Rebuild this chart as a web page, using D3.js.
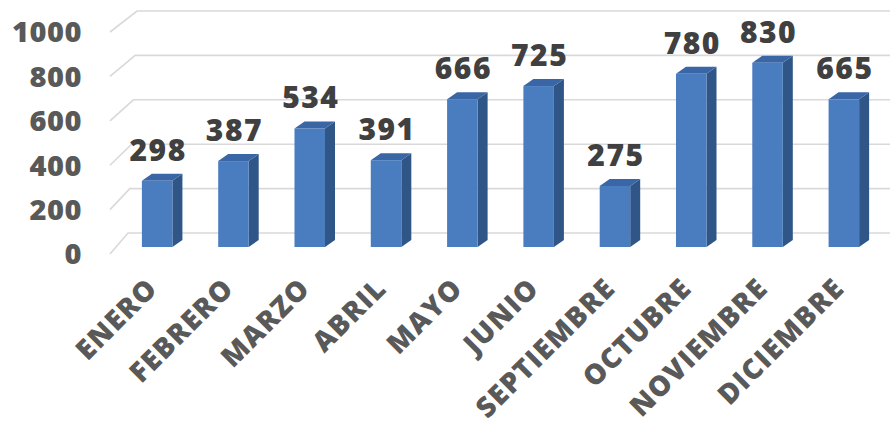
<!DOCTYPE html>
<html>
<head>
<meta charset="utf-8">
<script src="https://cdn.jsdelivr.net/npm/d3@7"></script>
<style>
  body { margin: 0; background: #fff; }
  svg { display: block; font-family: "Open Sans", sans-serif; font-weight: 800; }
</style>
</head>
<body>
<div id="chart"></div>
<script>
// Data
var months = ["ENERO", "FEBRERO", "MARZO", "ABRIL", "MAYO", "JUNIO",
    "SEPTIEMBRE", "OCTUBRE", "NOVIEMBRE", "DICIEMBRE"];
var values = [298, 387, 534, 391, 666, 725, 275, 780, 830, 665];
var yTicks = [0, 200, 400, 600, 800, 1000];

var width = 890, height = 429;

// 3D look: offset of the bar depth and of the floor / back wall
var barDx = 10, barDy = -7;
var wallBack = -14, wallFront = 7;

var svg = d3.select("#chart").append("svg")
    .attr("width", width)
    .attr("height", height);

var x = d3.scaleBand()
    .domain(months)
    .range([119, 882])
    .paddingInner(0.6)
    .paddingOuter(0.3);

// y of the bar front faces
var y = d3.scaleLinear().domain([0, 1000]).range([247, 25]);

// gridlines (slanted side wall + back wall)
svg.append("g").selectAll("path")
    .data(yTicks)
    .enter().append("path")
    .attr("d", d => {
        var t = d / 1000;
        return "M110," + (y(d) + wallFront) +
            "L" + (128 + 9 * t) + "," + (y(d) + wallBack) +
            "L" + width + "," + (y(d) + wallBack);
    })
    .attr("fill", "none")
    .attr("stroke", "#d9d9d9")
    .attr("stroke-width", 1.6);

// y axis labels
svg.append("g").selectAll("text")
    .data(yTicks)
    .enter().append("text")
    .attr("x", 82)
    .attr("y", d => y(d) + wallFront)
    .attr("dy", "0.36em")
    .attr("text-anchor", "end")
    .attr("fill", "#595959")
    .style("font-size", "29px")
    .style("letter-spacing", "0.5px")
    .text(d => d);

// bars
var bars = svg.append("g").selectAll("g")
    .data(months)
    .enter().append("g");

var bw = x.bandwidth();

bars.append("path")   // side
    .attr("d", (d, i) => {
        var x0 = x(d) + bw, y0 = y(values[i]), yb = y(0);
        return "M" + x0 + "," + y0 + "L" + (x0 + barDx) + "," + (y0 + barDy) +
            "L" + (x0 + barDx) + "," + (yb + barDy) + "L" + x0 + "," + yb + "Z";
    })
    .attr("fill", "#2f5687");

bars.append("path")   // top
    .attr("d", (d, i) => {
        var x0 = x(d), y0 = y(values[i]);
        return "M" + x0 + "," + y0 + "L" + (x0 + barDx) + "," + (y0 + barDy) +
            "L" + (x0 + bw + barDx) + "," + (y0 + barDy) + "L" + (x0 + bw) + "," + y0 + "Z";
    })
    .attr("fill", "#3a66a6");

bars.append("rect")   // front
    .attr("x", d => x(d))
    .attr("y", (d, i) => y(values[i]))
    .attr("width", bw)
    .attr("height", (d, i) => y(0) - y(values[i]))
    .attr("fill", "#4a7dc0");

// value labels
svg.append("g").selectAll("text")
    .data(months)
    .enter().append("text")
    .attr("x", d => x(d) + bw / 2 + 1)
    .attr("y", (d, i) => y(values[i]) - 20)
    .attr("text-anchor", "middle")
    .attr("fill", "#404040")
    .style("font-size", "30px")
    .style("letter-spacing", "1.5px")
    .text((d, i) => values[i]);

// category labels, rotated
svg.append("g").selectAll("text")
    .data(months)
    .enter().append("text")
    .attr("transform", d => "translate(" + (x(d) + bw / 2 + 2) + ",290) rotate(-45)")
    .attr("text-anchor", "end")
    .attr("fill", "#595959")
    .style("font-size", "28px")
    .style("letter-spacing", "1.2px")
    .text(d => d);
</script>
</body>
</html>
